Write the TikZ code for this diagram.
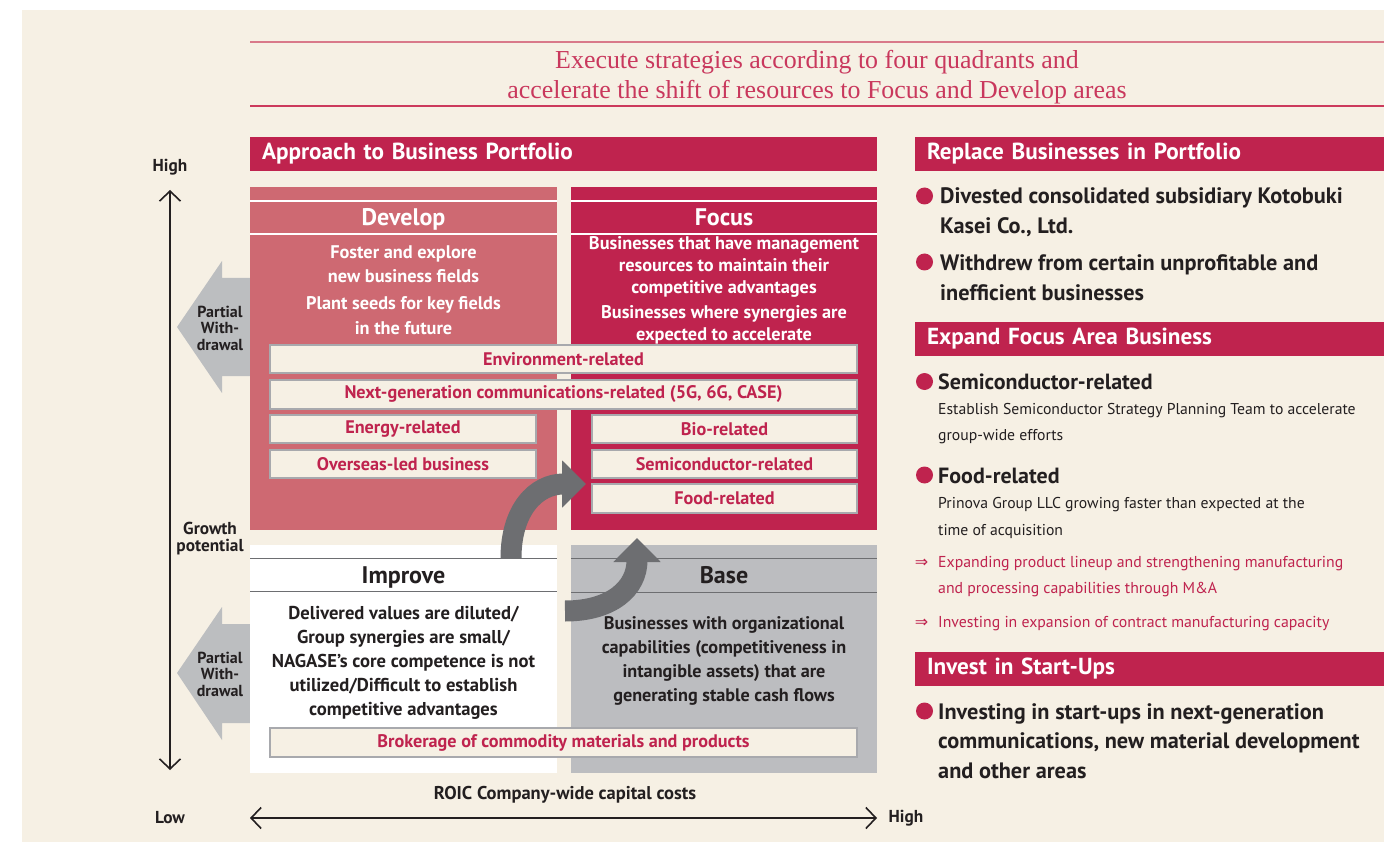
\documentclass[tikz,border=0pt]{standalone}
\usepackage{fontspec}
\setmainfont{PT Sans}
\newfontfamily\titlefont{Liberation Serif}
\newfontfamily\symfont{DejaVu Sans}
\usetikzlibrary{arrows.meta}
\definecolor{cream}{HTML}{F6F0E4}
\definecolor{crimson}{HTML}{BF234E}
\definecolor{devpink}{HTML}{CE6972}
\definecolor{basegray}{HTML}{BCBDC0}
\definecolor{wgray}{HTML}{BCBEC0}
\definecolor{darkarrow}{HTML}{6D6E71}
\definecolor{textdark}{HTML}{231F20}
\definecolor{itemborder}{HTML}{A8A9AD}
\definecolor{titlered}{HTML}{C9385D}
\definecolor{titletop}{HTML}{D9798A}
\definecolor{titlebot}{HTML}{CC3A5C}
\newcommand{\myfs}[2]{\fontsize{#1pt}{#2pt}\selectfont}
\begin{document}
\begin{tikzpicture}[x=1pt,y=-1pt,
  quad/.style={inner sep=0pt, outer sep=0pt, draw=none, anchor=north west},
  banner/.style={fill=crimson, text=white, font=\bfseries\myfs{23.2}{27}, minimum height=34pt, inner xsep=12pt, inner ysep=0pt, align=left, outer sep=0pt, anchor=north west},
  qhead/.style={font=\bfseries\myfs{24}{28}, inner sep=0pt, anchor=base},
  qbody/.style={font=\bfseries\myfs{18.3}{24.5}, inner sep=0pt, align=center},
  item/.style={fill=cream, draw=itemborder, line width=1.2pt, text=crimson, font=\bfseries\myfs{18.2}{20}, inner sep=0pt, minimum height=28pt},
  wlabel/.style={font=\bfseries\myfs{16}{16.5}, text=textdark, align=center, inner sep=0pt},
  axlabel/.style={font=\bfseries\myfs{17.3}{17.5}, text=textdark, align=center, inner sep=0pt},
  axis/.style={line width=1.6pt, draw=textdark, arrows={Straight Barb[length=10pt,width=21pt]-Straight Barb[length=10pt,width=21pt]}},
  curarrow/.style={draw=darkarrow, line width=21pt, arrows={-Triangle[width=46pt,length=24pt]}},
  dot/.style={circle, fill=crimson, minimum size=17pt, inner sep=0pt},
  rtext/.style={font=\bfseries\myfs{22.3}{30}, text=textdark, align=left, inner sep=0pt, anchor=west},
  rhead/.style={font=\bfseries\myfs{22}{26}, text=textdark, inner sep=0pt, anchor=west},
  rsub/.style={font=\myfs{15.7}{26.5}, text=textdark, align=left, inner sep=0pt, anchor=west},
  rred/.style={font=\myfs{15.8}{26.5}, text=crimson, align=left, inner sep=0pt, anchor=west},
  rarr/.style={font=\symfont\myfs{16}{16}, text=crimson, inner sep=0pt}
]
\useasboundingbox (0,0) rectangle (1389,842);
\fill[white] (0,0) rectangle (1389,842);
\fill[cream] (22,10) rectangle (1384,842);

% title
\draw[titletop, line width=1.3pt] (250,42) -- (1384,42);
\draw[titlebot, line width=1.3pt] (250,106) -- (1384,106);
\node[font=\titlefont\myfs{25.9}{29.5}, text=titlered, align=center, inner sep=0pt] (title) at (817,77)
  {Execute strategies according to four quadrants and\\accelerate the shift of resources to Focus and Develop areas};

% left banner
\node[banner, minimum width=627pt, text width=603pt] (bp) at (250,137) {Approach to Business Portfolio};

% partial withdrawal arrows
\fill[wgray] (250,278) -- (222,278) -- (222,261) -- (177,327) -- (222,393) -- (222,376) -- (250,376) -- cycle;
\fill[wgray] (250,624) -- (222,624) -- (222,607) -- (177,673) -- (222,740) -- (222,723) -- (250,723) -- cycle;
\node[wlabel] (pw1) at (220,328) {Partial\\With-\\drawal};
\node[wlabel] (pw2) at (220,674) {Partial\\With-\\drawal};

% quadrants
\node[quad, fill=devpink, minimum width=307pt, minimum height=343pt] (develop) at (250,187) {};
\node[quad, fill=crimson, minimum width=306pt, minimum height=343pt] (focus) at (571,187) {};
\node[quad, fill=white, minimum width=307pt, minimum height=228pt] (improve) at (250,545) {};
\node[quad, fill=basegray, minimum width=306pt, minimum height=228pt] (base) at (571,545) {};

\draw[white, line width=1.2pt] (250,201) -- (557,201);
\draw[white, line width=1.2pt] (250,234) -- (557,234);
\draw[white, line width=1.2pt] (571,201) -- (877,201);
\draw[white, line width=1.2pt] (571,234) -- (877,234);
\draw[darkarrow, line width=1pt] (250,558) -- (557,558);
\draw[darkarrow, line width=1pt] (250,591) -- (557,591);
\draw[darkarrow, line width=1pt] (571,558) -- (877,558);
\draw[darkarrow, line width=1pt] (571,592) -- (877,592);

\node[qhead, text=white] (devh) at (403.5,226) {Develop};
\node[qhead, text=white] (foch) at (724,226) {Focus};
\node[qhead, text=textdark] (imph) at (403.5,583) {Improve};
\node[qhead, text=textdark] (baseh) at (724,583) {Base};

\node[qbody, text=white] (devb1) at (403.5,264) {Foster and explore\\new business fields};
\node[qbody, text=white] (devb2) at (403.5,315.5) {Plant seeds for key fields\\in the future};
\node[qbody, text=white, font=\bfseries\myfs{18.3}{22}] (focb1) at (724,267) {Businesses that have management\\resources to maintain their\\competitive advantages};
\node[qbody, text=white, font=\bfseries\myfs{18.3}{22}] (focb2) at (724,324.5) {Businesses where synergies are\\expected to accelerate};
\node[qbody, text=textdark, font=\bfseries\myfs{18.6}{24}] (impb) at (403.5,663) {Delivered values are diluted/\\Group synergies are small/\\NAGASE’s core competence is not\\utilized/Difficult to establish\\competitive advantages};
\node[qbody, text=textdark, font=\bfseries\myfs{18.2}{24}] (baseb) at (724,661) {Businesses with organizational\\capabilities (competitiveness in\\intangible assets) that are\\generating stable cash flows};

% curved arrows
\coordinate (c1s) at (511,558);
\coordinate (c1e) at (586,484);
\draw[curarrow] (c1s) .. controls (511,510) and (536,484) .. (c1e);
\coordinate (c2s) at (565,611);
\coordinate (c2e) at (637,538);
\draw[curarrow] (c2s) .. controls (612,611) and (637,588) .. (c2e);

% items
\node[item, minimum width=587pt] (env) at (563.5,359) {Environment-related};
\node[item, minimum width=587pt, minimum height=29pt] (ngen) at (563.5,394.5) {Next-generation communications-related (5G, 6G, CASE)};
\node[item, minimum width=266pt] (energy) at (403,429) {Energy-related};
\node[item, minimum width=266pt] (overseas) at (403,464) {Overseas-led business};
\node[item, minimum width=265pt] (bio) at (724.5,429) {Bio-related};
\node[item, minimum width=265pt] (semi) at (724.5,464) {Semiconductor-related};
\node[item, minimum width=265pt, minimum height=29pt] (food) at (724.5,498.5) {Food-related};
\node[item, minimum width=587pt, minimum height=29pt] (brok) at (563.5,742.5) {Brokerage of commodity materials and products};

% axes
\coordinate (vtop) at (170,190);
\coordinate (vbot) at (170,770);
\draw[axis] (vtop) -- (vbot);
\coordinate (hleft) at (250,818);
\coordinate (hright) at (877,818);
\draw[axis] (hleft) -- (hright);
\node[axlabel] (vhigh) at (170,167) {High};
\node[axlabel] (vlow) at (170,818) {Low};
\node[axlabel] (hhigh) at (906,818) {High};
\node[axlabel] (growth) at (210,538.5) {Growth\\potential};
\node[axlabel, font=\bfseries\myfs{18.5}{20}] (roic) at (565,795) {ROIC Company-wide capital costs};

% right panel
\node[banner, minimum width=469pt, text width=445pt] (rb1) at (915,137) {Replace Businesses in Portfolio};
\node[dot] (d1) at (924.5,196) {};
\node[rtext] (t1) at (940,212) {Divested consolidated subsidiary Kotobuki\\Kasei Co., Ltd.};
\node[dot] (d2) at (924.5,262) {};
\node[rtext] (t2) at (940,278) {Withdrew from certain unprofitable and\\inefficient businesses};

\node[banner, minimum width=469pt, text width=445pt] (rb2) at (915,322) {Expand Focus Area Business};
\node[dot] (d3) at (924.5,381.5) {};
\node[rhead] (h1) at (938,381.5) {Semiconductor-related};
\node[rsub] (s1) at (938,423.5) {Establish Semiconductor Strategy Planning Team to accelerate\\group-wide efforts};
\node[dot] (d4) at (924.5,475) {};
\node[rhead] (h2) at (938,475.5) {Food-related};
\node[rsub] (s2) at (938,518) {Prinova Group LLC growing faster than expected at the\\time of acquisition};
\node[rarr] (a1) at (921.5,563) {⇒};
\node[rred] (r1) at (938,576.5) {Expanding product lineup and strengthening manufacturing\\and processing capabilities through M\&A};
\node[rarr] (a2) at (921.5,623) {⇒};
\node[rred] (r2) at (938,623.5) {Investing in expansion of contract manufacturing capacity};

\node[banner, minimum width=469pt, text width=445pt] (rb3) at (915,652) {Invest in Start-Ups};
\node[dot] (d5) at (924.5,711) {};
\node[rtext, font=\bfseries\myfs{22.3}{29.5}] (t3) at (938,741) {Investing in start-ups in next-generation\\communications, new material development\\and other areas};
\end{tikzpicture}
\end{document}
